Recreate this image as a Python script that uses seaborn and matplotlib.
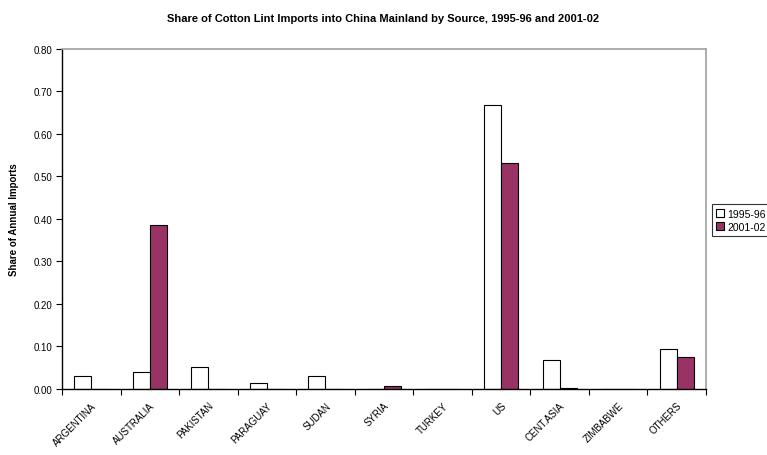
import pandas as pd
import numpy as np
import matplotlib
matplotlib.use("Agg")
import matplotlib.pyplot as plt
import seaborn as sns

sources = ["ARGENTINA", "AUSTRALIA", "PAKISTAN", "PARAGUAY", "SUDAN", "SYRIA",
           "TURKEY", "US", "CENT.ASIA", "ZIMBABWE", "OTHERS"]
share_1995 = [0.030, 0.040, 0.052, 0.014, 0.031, 0.0, 0.0, 0.667, 0.068, 0.0, 0.094]
share_2001 = [0.0, 0.385, 0.0, 0.0, 0.0, 0.006, 0.0, 0.530, 0.002, 0.0, 0.075]
periods = ["1995-96", "2001-02"]

df = pd.DataFrame({
    "source": sources * 2,
    "period": [periods[0]] * len(sources) + [periods[1]] * len(sources),
    "share": share_1995 + share_2001,
})

sns.set_style("white")
plt.rcParams["font.family"] = ["Liberation Sans", "DejaVu Sans"]
plt.rcParams["text.color"] = "black"
plt.rcParams["axes.labelcolor"] = "black"
plt.rcParams["xtick.color"] = "black"
plt.rcParams["ytick.color"] = "black"

fig = plt.figure(figsize=(7.67, 4.56), dpi=100)
ax = fig.add_axes([0.0808, 0.1447, 0.8396, 0.7467])

sns.barplot(data=df, x="source", y="share", hue="period", order=sources,
            hue_order=periods, palette=["white", "#993366"], saturation=1, width=0.58,
            edgecolor="black", linewidth=0.8, gap=0, ax=ax, legend=True)

ax.set_ylim(0, 0.8)
ax.set_xlim(-0.5, len(sources) - 0.5)
ax.set_yticks(np.arange(0, 0.81, 0.1))
ax.set_yticklabels([f"{v:.2f}" for v in np.arange(0, 0.81, 0.1)], fontsize=7)
ax.tick_params(axis="y", direction="out", length=4, width=0.8, color="black", left=True, pad=3)

# category boundary ticks like the original, labels at category centres
ax.set_xticks(np.arange(-0.5, len(sources), 1.0))
ax.set_xticklabels([])
ax.tick_params(axis="x", which="major", direction="out", length=4, width=0.8, color="black", bottom=True)
ax.set_xticks(np.arange(len(sources)), minor=True)
ax.set_xticklabels(sources, minor=True, rotation=45, ha="right", rotation_mode="anchor", fontsize=7)
ax.tick_params(axis="x", which="minor", length=0, pad=8)

ax.set_xlabel("")
ax.set_ylabel("Share of Annual Imports", fontsize=7, fontweight="bold", labelpad=10)

for side in ["left", "bottom"]:
    ax.spines[side].set_color("black")
    ax.spines[side].set_linewidth(1.0)
for side in ["top", "right"]:
    ax.spines[side].set_visible(True)
    ax.spines[side].set_color("#a0a0a0")
    ax.spines[side].set_linewidth(1.2)

fig.suptitle("Share of Cotton Lint Imports into China Mainland by Source, 1995-96 and 2001-02",
             x=0.5, y=0.97, fontsize=8, fontweight="bold")

leg = ax.legend(loc="center left", bbox_to_anchor=(0.928, 0.515), bbox_transform=fig.transFigure,
                fontsize=7.5, frameon=True, fancybox=False, edgecolor="black",
                handlelength=0.8, handleheight=0.8, handletextpad=0.3, borderpad=0.4,
                labelspacing=0.3, borderaxespad=0)
leg.get_frame().set_linewidth(0.8)

fig.savefig("out.png", dpi=100)
